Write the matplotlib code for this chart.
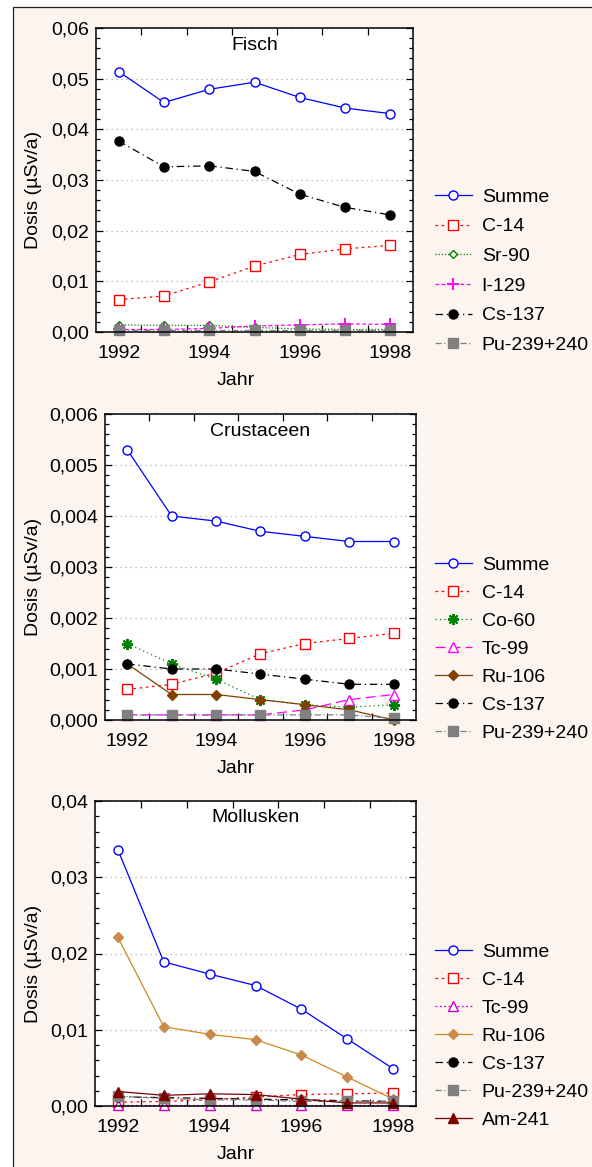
import matplotlib
matplotlib.use('Agg')
import matplotlib.pyplot as plt
from matplotlib.patches import Rectangle
from matplotlib.ticker import FuncFormatter, MultipleLocator, FixedLocator

plt.rcParams['font.family'] = ['Liberation Sans', 'DejaVu Sans']
plt.rcParams['font.size'] = 14

W, H = 592, 1167
jahre = [1992, 1993, 1994, 1995, 1996, 1997, 1998]

# Fisch
fisch_summe = [0.0514, 0.0453, 0.0479, 0.0493, 0.0463, 0.0442, 0.0431]
fisch_c14 = [0.0064, 0.0071, 0.0099, 0.0130, 0.0153, 0.0164, 0.0171]
fisch_sr90 = [0.0014, 0.0013, 0.0013, 0.0009, 0.0006, 0.0005, 0.0005]
fisch_i129 = [0.0005, 0.0005, 0.0007, 0.0012, 0.0014, 0.0016, 0.0015]
fisch_cs137 = [0.0377, 0.0326, 0.0328, 0.0317, 0.0272, 0.0246, 0.0231]
fisch_pu = [0.0003, 0.0003, 0.0003, 0.0003, 0.0003, 0.0003, 0.0003]

# Crustaceen
crus_summe = [0.0053, 0.0040, 0.0039, 0.0037, 0.0036, 0.0035, 0.0035]
crus_c14 = [0.0006, 0.0007, 0.00092, 0.0013, 0.0015, 0.0016, 0.0017]
crus_co60 = [0.0015, 0.0011, 0.0008, 0.0004, 0.0003, 0.00025, 0.0003]
crus_tc99 = [0.0001, 0.0001, 0.0001, 0.0001, 0.0002, 0.0004, 0.0005]
crus_ru106 = [0.0011, 0.0005, 0.0005, 0.0004, 0.0003, 0.0002, 0.0]
crus_cs137 = [0.0011, 0.0010, 0.0010, 0.0009, 0.0008, 0.0007, 0.0007]
crus_pu = [0.0001, 0.0001, 0.0001, 0.0001, 0.0001, 0.0001, 0.00003]

# Mollusken
moll_summe = [0.0336, 0.0189, 0.0173, 0.0158, 0.0127, 0.0088, 0.0049]
moll_c14 = [0.0005, 0.0006, 0.0008, 0.0012, 0.0015, 0.0016, 0.0017]
moll_tc99 = [0.0001, 0.0001, 0.0001, 0.0001, 0.0001, 0.0001, 0.0001]
moll_ru106 = [0.0221, 0.0104, 0.0094, 0.0087, 0.0067, 0.0038, 0.0009]
moll_cs137 = [0.0012, 0.0011, 0.0010, 0.0009, 0.0008, 0.0007, 0.0006]
moll_pu = [0.0013, 0.0010, 0.0008, 0.0008, 0.0006, 0.0006, 0.0006]
moll_am241 = [0.0019, 0.0014, 0.0016, 0.0015, 0.0009, 0.0004, 0.0004]

stil = {
    'Summe': dict(color='#0000FF', ls='-', marker='o', mfc='white', ms=6.5),
    'C-14': dict(color='#FF0000', ls=(0, (2, 3)), marker='s', mfc='white', ms=7),
    'Sr-90': dict(color='#008000', ls=(0, (1, 1.5)), marker='D', mfc='white', ms=4.5),
    'I-129': dict(color='#FF00FF', ls=(0, (3, 2)), marker='+', ms=8, mew=1.4),
    'Co-60': dict(color='#008000', ls=(0, (1, 2.5)), marker=(8, 2, 0), ms=8, mew=1.4),
    'Tc-99': dict(color='#FF00FF', ls=(0, (8, 4)), marker='^', mfc='white', ms=6.5),
    'Ru-106': dict(color='#804000', ls='-', marker='D', ms=5.5),
    'Cs-137': dict(color='black', ls=(0, (6, 3, 1, 3)), marker='o', ms=6.5),
    'Pu-239+240': dict(color='#808080', ls=(0, (5, 2, 1, 2)), marker='s', ms=6.5),
    'Am-241': dict(color='#800000', ls='-', marker='^', ms=7),
}
moll_tc = dict(color='#CC00CC', ls=(0, (1.5, 2)), marker='^', mfc='white', ms=6.5)
moll_ru = dict(color='#CC8B1A', ls='-', marker='D', mfc='#C98A4B', mec='#C98A4B', ms=5.5)

panels = [
    ('Fisch', (96, 413, 28, 332), 0.06, 0.01, 0.002, '{:.2f}',
     [('Summe', fisch_summe, None), ('C-14', fisch_c14, None), ('Sr-90', fisch_sr90, None),
      ('I-129', fisch_i129, None), ('Cs-137', fisch_cs137, None), ('Pu-239+240', fisch_pu, None)],
     271, 0.62),
    ('Crustaceen', (105, 416, 414, 720), 0.006, 0.001, 0.0002, '{:.3f}',
     [('Summe', crus_summe, None), ('C-14', crus_c14, None), ('Co-60', crus_co60, None),
      ('Tc-99', crus_tc99, None), ('Ru-106', crus_ru106, None), ('Cs-137', crus_cs137, None),
      ('Pu-239+240', crus_pu, None)],
     649, 0.53),
    ('Mollusken', (95, 416, 801, 1106), 0.04, 0.01, 0.002, '{:.2f}',
     [('Summe', moll_summe, None), ('C-14', moll_c14, None), ('Tc-99', moll_tc99, moll_tc),
      ('Ru-106', moll_ru106, moll_ru), ('Cs-137', moll_cs137, None), ('Pu-239+240', moll_pu, None),
      ('Am-241', moll_am241, None)],
     1036, 0.53),
]

fig = plt.figure(figsize=(W / 100, H / 100), dpi=100, facecolor='white')
fig.patches.append(Rectangle((13 / W, -0.05), 1.0, 1.05 - 7 / H, transform=fig.transFigure,
                             facecolor='#FCF5EF', edgecolor='#222222', lw=0.9, zorder=-5))

for name, (l, r, t, b), ymax, major, minor, fmt, reihen, leg_y, lsp in panels:
    ax = fig.add_axes([l / W, 1 - b / H, (r - l) / W, (b - t) / H])
    ax.set_facecolor('white')
    for label, werte, st in reihen:
        s = dict(st if st is not None else stil[label])
        if 'mec' not in s:
            s['mec'] = s['color']
        if 'mfc' not in s:
            s['mfc'] = s['color']
        ax.plot(jahre, werte, label=label, lw=0.9, clip_on=False, **s)

    ax.set_xlim(1991.5, 1998.5)
    ax.set_ylim(0, ymax)
    ax.set_xticks([1992, 1994, 1996, 1998])
    ax.xaxis.set_minor_locator(FixedLocator([1992.5, 1993.5, 1994.5, 1995.5, 1996.5, 1997.5]))
    ax.yaxis.set_major_locator(MultipleLocator(major))
    ax.yaxis.set_minor_locator(MultipleLocator(minor))
    ax.yaxis.set_major_formatter(FuncFormatter(lambda v, p, f=fmt: f.format(v).replace('.', ',')))
    ax.tick_params(axis='x', which='major', length=0, pad=9)
    ax.tick_params(axis='x', which='minor', direction='in', length=5, width=0.9, top=True, bottom=True)
    ax.tick_params(axis='y', which='major', direction='in', length=5, width=0.9, left=True, right=True, pad=5)
    ax.tick_params(axis='y', which='minor', direction='in', length=3, width=0.9, left=True, right=True)
    for sp in ax.spines.values():
        sp.set_linewidth(1.1)
    ax.yaxis.grid(True, which='major', linestyle=(0, (1, 3)), color='#AAAAAA', lw=0.9)
    ax.set_axisbelow(True)

    ax.text(0.5, 1 - 17 / (b - t), name, transform=ax.transAxes, ha='center', va='center')
    ax.set_ylabel('Dosis (µSv/a)')
    ax.yaxis.set_label_coords(42 / W, 1 - ((t + b) / 2 + 10) / H, transform=fig.transFigure)
    ax.set_xlabel('Jahr')
    ax.xaxis.set_label_coords(236 / W, 1 - (b + 40) / H, transform=fig.transFigure)

    ax.legend(loc='center left', bbox_to_anchor=(435 / W, 1 - leg_y / H),
              bbox_transform=fig.transFigure, frameon=False, numpoints=1,
              borderpad=0, borderaxespad=0, handlelength=1.9, handletextpad=0.5,
              labelspacing=lsp)

fig.savefig('out.png', dpi=100, facecolor=fig.get_facecolor())
